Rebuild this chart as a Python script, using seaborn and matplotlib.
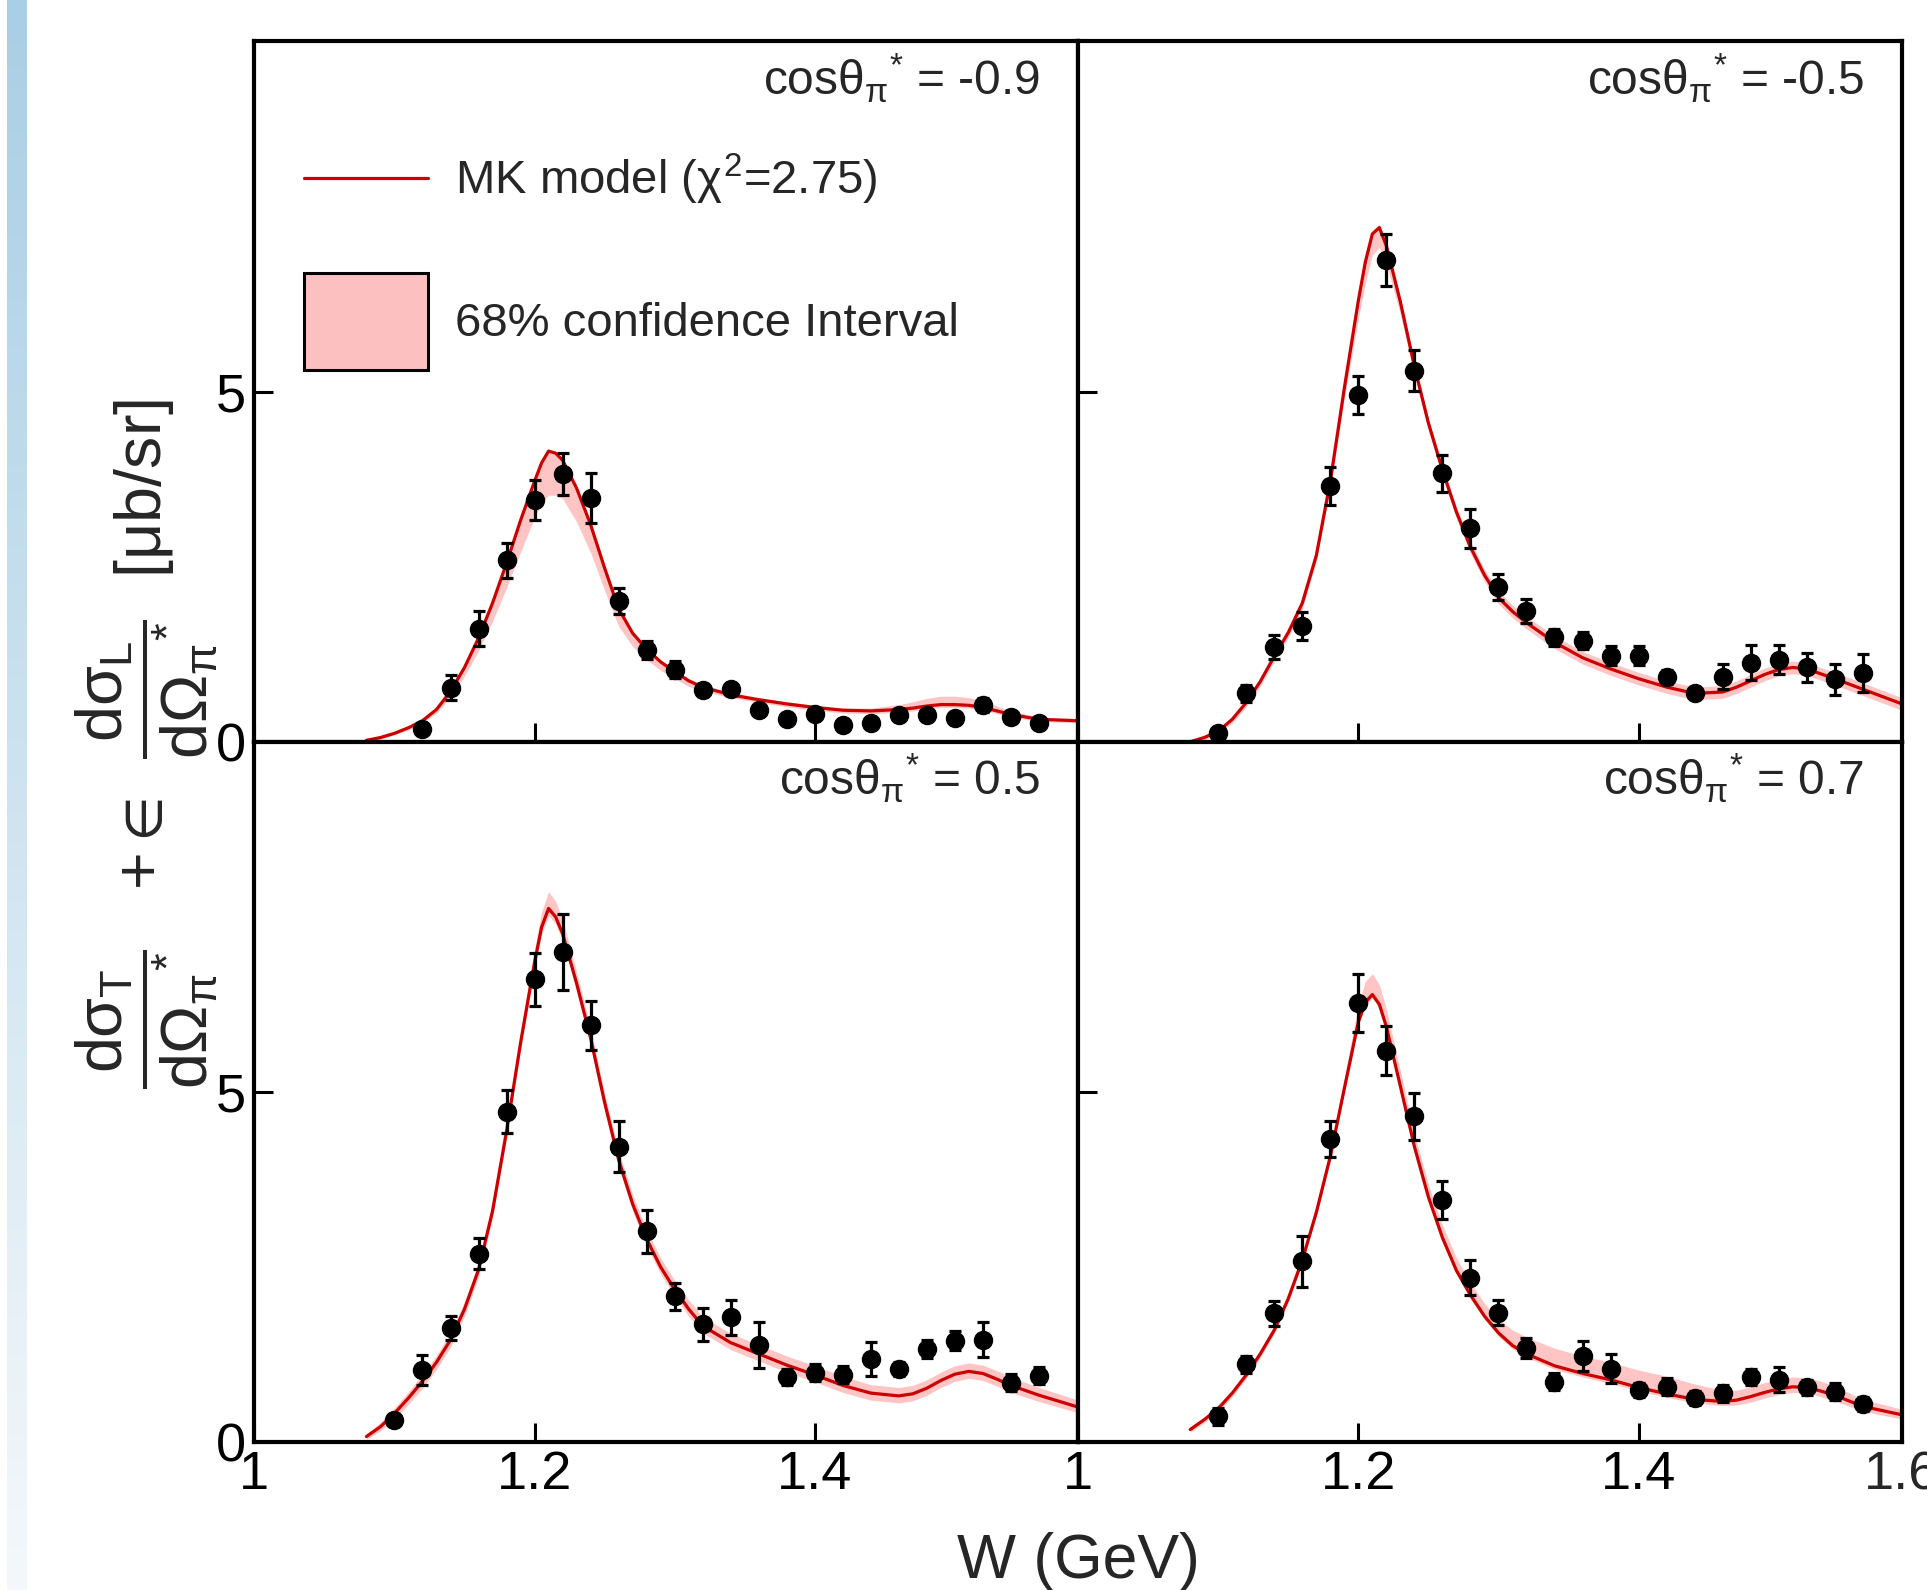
import numpy as np
import matplotlib
matplotlib.use('Agg')
import matplotlib.pyplot as plt
import matplotlib.transforms as mtransforms
from matplotlib.colors import LinearSegmentedColormap
from matplotlib.lines import Line2D
from matplotlib.patches import Patch
import seaborn as sns

# ---- measured data points: W (GeV), cross section [ub/sr], error ----
w_pts_tl = [1.12, 1.14, 1.16, 1.18, 1.20, 1.22, 1.24, 1.26, 1.28, 1.30, 1.32, 1.34,
            1.36, 1.38, 1.40, 1.42, 1.44, 1.46, 1.48, 1.50, 1.52, 1.54, 1.56]
w_pts = [1.10, 1.12, 1.14, 1.16, 1.18, 1.20, 1.22, 1.24, 1.26, 1.28, 1.30, 1.32,
         1.34, 1.36, 1.38, 1.40, 1.42, 1.44, 1.46, 1.48, 1.50, 1.52, 1.54, 1.56]

y_tl = [0.18, 0.77, 1.61, 2.59, 3.45, 3.82, 3.48, 2.01, 1.31, 1.03, 0.74, 0.75,
        0.45, 0.33, 0.40, 0.24, 0.27, 0.38, 0.38, 0.34, 0.52, 0.35, 0.27]
e_tl = [0.05, 0.18, 0.25, 0.25, 0.29, 0.30, 0.36, 0.19, 0.13, 0.12, 0.08, 0.08,
        0.06, 0.06, 0.06, 0.05, 0.05, 0.06, 0.06, 0.06, 0.10, 0.06, 0.06]

y_tr = [0.13, 0.69, 1.35, 1.65, 3.65, 4.95, 6.88, 5.30, 3.83, 3.05, 2.21, 1.87,
        1.49, 1.44, 1.23, 1.23, 0.93, 0.70, 0.93, 1.13, 1.17, 1.06, 0.89, 0.98]
e_tr = [0.08, 0.12, 0.17, 0.20, 0.27, 0.27, 0.37, 0.29, 0.26, 0.28, 0.19, 0.17,
        0.12, 0.12, 0.13, 0.13, 0.10, 0.08, 0.18, 0.25, 0.21, 0.20, 0.22, 0.27]

y_bl = [0.31, 1.03, 1.63, 2.69, 4.72, 6.61, 7.00, 5.95, 4.22, 3.01, 2.08, 1.68,
        1.78, 1.39, 0.93, 0.99, 0.96, 1.19, 1.05, 1.33, 1.45, 1.46, 0.85, 0.95]
e_bl = [0.07, 0.22, 0.17, 0.22, 0.31, 0.38, 0.54, 0.35, 0.36, 0.31, 0.19, 0.24,
        0.25, 0.33, 0.12, 0.12, 0.12, 0.24, 0.10, 0.13, 0.13, 0.25, 0.12, 0.12]

y_br = [0.37, 1.11, 1.84, 2.58, 4.33, 6.27, 5.59, 4.65, 3.46, 2.35, 1.85, 1.34,
        0.86, 1.23, 1.05, 0.75, 0.79, 0.63, 0.70, 0.93, 0.89, 0.78, 0.72, 0.54]
e_br = [0.12, 0.12, 0.18, 0.36, 0.26, 0.42, 0.35, 0.33, 0.27, 0.25, 0.18, 0.14,
        0.12, 0.21, 0.21, 0.10, 0.12, 0.10, 0.12, 0.12, 0.18, 0.10, 0.12, 0.10]

# ---- MK model curve, plus the band extent below / above it ----
w_mod = [1.08, 1.09, 1.10, 1.11, 1.12, 1.13, 1.14, 1.15, 1.16, 1.17,
         1.18, 1.19, 1.20, 1.205, 1.21, 1.215, 1.22, 1.23, 1.24, 1.25,
         1.26, 1.27, 1.28, 1.29, 1.30, 1.31, 1.32, 1.34, 1.36, 1.38,
         1.40, 1.42, 1.44, 1.46, 1.47, 1.48, 1.49, 1.50, 1.51, 1.52,
         1.53, 1.54, 1.56, 1.588]

mod_tl = [0.02, 0.06, 0.12, 0.20, 0.30, 0.46, 0.72, 1.06, 1.48, 1.98,
          2.55, 3.16, 3.72, 3.98, 4.15, 4.12, 4.02, 3.62, 3.10, 2.48,
          1.90, 1.55, 1.32, 1.14, 1.00, 0.87, 0.78, 0.67, 0.60, 0.54,
          0.49, 0.45, 0.44, 0.46, 0.48, 0.51, 0.53, 0.53, 0.52, 0.49,
          0.44, 0.39, 0.32, 0.30]
dlo_tl = [0.01, 0.02, 0.02, 0.03, 0.03, 0.05, 0.08, 0.12, 0.18, 0.26,
          0.35, 0.45, 0.52, 0.58, 0.63, 0.60, 0.55, 0.48, 0.40, 0.32,
          0.25, 0.19, 0.15, 0.12, 0.10, 0.08, 0.06, 0.04, 0.04, 0.04,
          0.04, 0.04, 0.04, 0.04, 0.04, 0.04, 0.04, 0.04, 0.04, 0.04,
          0.04, 0.04, 0.03, 0.03]
dhi_tl = [0.01, 0.02, 0.02, 0.02, 0.02, 0.02, 0.02, 0.02, 0.02, 0.02,
          0.02, 0.02, 0.02, 0.02, 0.02, 0.02, 0.02, 0.02, 0.02, 0.02,
          0.02, 0.02, 0.02, 0.02, 0.03, 0.03, 0.03, 0.03, 0.03, 0.03,
          0.03, 0.03, 0.04, 0.07, 0.09, 0.11, 0.12, 0.12, 0.11, 0.09,
          0.07, 0.05, 0.03, 0.03]

mod_tr = [0.00, 0.06, 0.15, 0.32, 0.56, 0.86, 1.22, 1.56, 1.98, 2.66,
          3.72, 5.05, 6.30, 6.85, 7.25, 7.34, 7.08, 6.28, 5.36, 4.55,
          3.88, 3.28, 2.78, 2.38, 2.06, 1.86, 1.70, 1.42, 1.20, 1.04,
          0.90, 0.78, 0.69, 0.71, 0.78, 0.87, 0.96, 1.03, 1.06, 1.04,
          0.97, 0.90, 0.75, 0.54]
dlo_tr = [0.01, 0.03, 0.04, 0.05, 0.06, 0.06, 0.07, 0.07, 0.08, 0.08,
          0.10, 0.15, 0.25, 0.30, 0.30, 0.28, 0.25, 0.18, 0.12, 0.10,
          0.09, 0.09, 0.09, 0.09, 0.09, 0.09, 0.09, 0.09, 0.09, 0.09,
          0.09, 0.09, 0.09, 0.09, 0.09, 0.09, 0.09, 0.09, 0.09, 0.09,
          0.09, 0.09, 0.09, 0.09]
dhi_tr = [0.01, 0.02, 0.03, 0.04, 0.04, 0.05, 0.05, 0.05, 0.05, 0.05,
          0.05, 0.05, 0.05, 0.05, 0.05, 0.05, 0.05, 0.05, 0.06, 0.06,
          0.07, 0.07, 0.08, 0.08, 0.09, 0.09, 0.09, 0.09, 0.09, 0.09,
          0.09, 0.09, 0.09, 0.09, 0.09, 0.09, 0.09, 0.09, 0.09, 0.09,
          0.09, 0.09, 0.09, 0.09]

mod_bl = [0.08, 0.22, 0.41, 0.63, 0.87, 1.14, 1.46, 1.90, 2.46, 3.30,
          4.44, 5.70, 6.85, 7.35, 7.62, 7.50, 7.26, 6.55, 5.77, 4.85,
          4.03, 3.40, 2.90, 2.50, 2.18, 1.90, 1.66, 1.42, 1.26, 1.10,
          0.96, 0.81, 0.70, 0.66, 0.69, 0.77, 0.88, 0.97, 1.01, 0.98,
          0.90, 0.81, 0.67, 0.50]
dlo_bl = [0.04, 0.06, 0.08, 0.09, 0.10, 0.10, 0.10, 0.10, 0.10, 0.10,
          0.10, 0.10, 0.10, 0.10, 0.10, 0.10, 0.10, 0.10, 0.10, 0.10,
          0.10, 0.10, 0.10, 0.10, 0.10, 0.10, 0.10, 0.10, 0.10, 0.10,
          0.10, 0.10, 0.10, 0.10, 0.10, 0.10, 0.10, 0.10, 0.10, 0.10,
          0.10, 0.10, 0.09, 0.08]
dhi_bl = [0.04, 0.06, 0.08, 0.09, 0.10, 0.10, 0.10, 0.10, 0.10, 0.10,
          0.12, 0.14, 0.18, 0.22, 0.24, 0.22, 0.20, 0.16, 0.14, 0.13,
          0.13, 0.13, 0.13, 0.13, 0.13, 0.13, 0.13, 0.13, 0.13, 0.13,
          0.13, 0.13, 0.12, 0.12, 0.12, 0.12, 0.12, 0.12, 0.12, 0.12,
          0.12, 0.12, 0.11, 0.10]

mod_br = [0.18, 0.32, 0.48, 0.70, 0.96, 1.26, 1.60, 2.05, 2.60, 3.28,
          4.08, 5.05, 6.00, 6.28, 6.39, 6.25, 5.93, 5.08, 4.22, 3.50,
          2.92, 2.45, 2.10, 1.80, 1.56, 1.38, 1.26, 1.09, 0.98, 0.89,
          0.78, 0.69, 0.61, 0.58, 0.60, 0.65, 0.71, 0.76, 0.79, 0.78,
          0.73, 0.67, 0.51, 0.39]
dlo_br = [0.04, 0.04, 0.05, 0.05, 0.05, 0.05, 0.05, 0.05, 0.05, 0.05,
          0.05, 0.05, 0.05, 0.05, 0.05, 0.05, 0.05, 0.05, 0.05, 0.05,
          0.05, 0.05, 0.05, 0.05, 0.05, 0.05, 0.05, 0.05, 0.05, 0.05,
          0.05, 0.05, 0.05, 0.06, 0.07, 0.08, 0.08, 0.08, 0.08, 0.08,
          0.08, 0.08, 0.07, 0.06]
dhi_br = [0.04, 0.04, 0.05, 0.05, 0.05, 0.06, 0.06, 0.07, 0.08, 0.10,
          0.12, 0.15, 0.25, 0.30, 0.30, 0.28, 0.25, 0.22, 0.18, 0.18,
          0.18, 0.18, 0.18, 0.18, 0.20, 0.22, 0.24, 0.25, 0.25, 0.25,
          0.25, 0.25, 0.22, 0.16, 0.14, 0.14, 0.14, 0.14, 0.14, 0.14,
          0.14, 0.13, 0.10, 0.08]

angles = ['-0.9', '-0.5', '0.5', '0.7']

# ---- style ----
sns.set_theme(style='ticks')
plt.rcParams['font.family'] = ['Liberation Sans', 'DejaVu Sans']
plt.rcParams['mathtext.fontset'] = 'custom'
plt.rcParams['mathtext.rm'] = 'Liberation Sans'
plt.rcParams['mathtext.it'] = 'Liberation Sans'
plt.rcParams['mathtext.bf'] = 'Liberation Sans:bold'
plt.rcParams['mathtext.fallback'] = 'stixsans'

red = '#cc0000'
pink = '#ffc4c4'

fig, axes = plt.subplots(2, 2, figsize=(19.27, 15.90), dpi=100)
fig.subplots_adjust(left=0.132, right=0.987, top=0.974, bottom=0.093,
                    wspace=0, hspace=0)

# light blue slide strip on the far left
strip = fig.add_axes([7 / 1927, 0, 20 / 1927, 1], zorder=-5)
cmap = LinearSegmentedColormap.from_list('strip', ['#a9cfe4', '#f4f8fb'])
strip.imshow(np.linspace(0, 1, 256)[:, None], aspect='auto', cmap=cmap)
strip.axis('off')

panels = [
    (axes[0, 0], w_pts_tl, y_tl, e_tl, mod_tl, dlo_tl, dhi_tl),
    (axes[0, 1], w_pts, y_tr, e_tr, mod_tr, dlo_tr, dhi_tr),
    (axes[1, 0], w_pts, y_bl, e_bl, mod_bl, dlo_bl, dhi_bl),
    (axes[1, 1], w_pts, y_br, e_br, mod_br, dlo_br, dhi_br),
]

for i, (ax, w, y, e, mod, dlo, dhi) in enumerate(panels):
    m = np.array(mod)
    ax.fill_between(w_mod, m - np.array(dlo), m + np.array(dhi),
                    color=pink, lw=0, zorder=1)
    sns.lineplot(x=w_mod, y=mod, ax=ax, color=red, lw=2.3, zorder=2)
    ax.errorbar(w, y, yerr=e, fmt='o', color='black', ms=13, elinewidth=2.3,
                capsize=4, capthick=2.3, zorder=3)

    ax.set_xlim(1.0, 1.588)
    ax.set_ylim(0, 10)
    ax.set_xticks([1.0, 1.2, 1.4])
    ax.set_yticks([0, 5])
    ax.set_xticklabels(['1', '1.2', '1.4'])
    ax.set_yticklabels(['0', '5'])
    ax.tick_params(direction='in', length=14, width=2.2, labelsize=39, pad=6,
                   top=False, right=False, colors='black')
    ax.tick_params(axis='x', labelbottom=(i >= 2))
    ax.tick_params(axis='y', labelleft=(i % 2 == 0))
    for s in ax.spines.values():
        s.set_linewidth(3)
        s.set_color('black')
    ax.set_xlabel('')
    ax.set_ylabel('')

    ax.text(0.954, 0.947, r'cos$\theta_{\pi}{}^{*}$ = ' + angles[i],
            transform=ax.transAxes, ha='right', va='center', fontsize=34.5)

# "1.6" label sits at the right edge of the last panel, clipped by the figure
ax = axes[1, 1]
trans = mtransforms.offset_copy(ax.transAxes, fig=fig, y=-6, units='points')
ax.text(1.0, 0, '1.6', transform=trans, ha='center', va='top', fontsize=39,
        clip_on=False)

# legend in top-left panel: two entries placed separately
ax0 = axes[0, 0]
leg1 = ax0.legend([Line2D([], [], color=red, lw=2.3)], [r'MK model ($\chi^{2}$=2.75)'],
                  loc='center left', bbox_to_anchor=(0.060, 0.803), frameon=False,
                  fontsize=34, handlelength=2.63, handletextpad=0.57,
                  borderpad=0, borderaxespad=0)
ax0.add_artist(leg1)
ax0.legend([Patch(facecolor='#fcc0c0', edgecolor='black', lw=2.2)],
           ['68% confidence Interval'],
           loc='center left', bbox_to_anchor=(0.060, 0.600), frameon=False,
           fontsize=34, handlelength=2.63, handleheight=2.785,
           handletextpad=0.57, borderpad=0, borderaxespad=0)

fig.text(0.5 * (0.132 + 0.987), 0.018, 'W (GeV)', ha='center', va='center', fontsize=45)

ylab = (r'$\dfrac{\mathrm{d}\sigma_{\mathrm{T}}}{\mathrm{d}\Omega_{\pi}{}^{*}}$'
        r'   +$\in\!$  '
        r'$\dfrac{\mathrm{d}\sigma_{\mathrm{L}}}{\mathrm{d}\Omega_{\pi}{}^{*}}$'
        r'  [$\mu$b/sr]')
fig.text(0.076, 0.532, ylab, rotation=90, ha='center', va='center', fontsize=46.5)

fig.savefig('out.png', dpi=100)
